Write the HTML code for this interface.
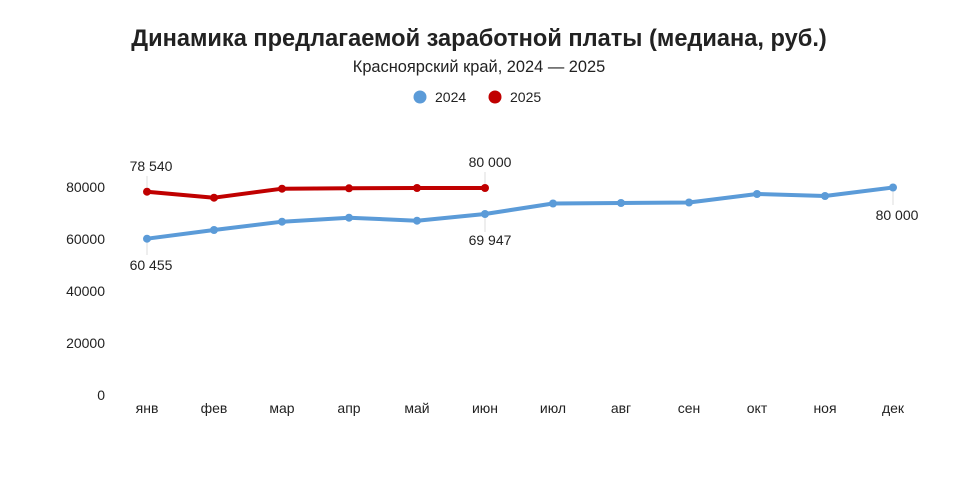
<!DOCTYPE html>
<html><head><meta charset="utf-8"><style>
body{margin:0;background:#fff;width:957px;height:492px;overflow:hidden}
text{font-family:"Liberation Sans",sans-serif;fill:#222}
</style></head><body>
<svg width="957" height="492" viewBox="0 0 957 492">
<text x="479" y="46" text-anchor="middle" font-size="23.6" font-weight="bold" fill="#111">Динамика предлагаемой заработной платы (медиана, руб.)</text>
<text x="479" y="72" text-anchor="middle" font-size="16.4">Красноярский край, 2024 — 2025</text>
<circle cx="420" cy="97" r="6.5" fill="#5b9bd8"/><text x="435" y="102" font-size="14">2024</text>
<circle cx="495" cy="97" r="6.5" fill="#c00000"/><text x="510" y="102" font-size="14">2025</text>
<g font-size="14" text-anchor="end">
<text x="105" y="192">80000</text><text x="105" y="244">60000</text><text x="105" y="296">40000</text><text x="105" y="348">20000</text><text x="105" y="400">0</text>
</g>
<g font-size="14" text-anchor="middle">
<text x="147" y="413">янв</text><text x="214" y="413">фев</text><text x="282" y="413">мар</text><text x="349" y="413">апр</text><text x="417" y="413">май</text><text x="485" y="413">июн</text><text x="553" y="413">июл</text><text x="621" y="413">авг</text><text x="689" y="413">сен</text><text x="757" y="413">окт</text><text x="825" y="413">ноя</text><text x="893" y="413">дек</text>
</g>
<g stroke="#ddd" stroke-width="1">
<line x1="147" y1="176" x2="147" y2="191"/><line x1="485" y1="172" x2="485" y2="187"/>
<line x1="147" y1="238" x2="147" y2="255"/><line x1="485" y1="214" x2="485" y2="232"/><line x1="893" y1="187" x2="893" y2="205"/>
</g>
<polyline fill="none" stroke="#5b9bd8" stroke-width="4" stroke-linejoin="round" points="147,238.7 214,230 282,221.7 349,217.7 417,220.7 485,214 553,203.5 621,203 689,202.5 757,194 825,196 893,187.5"/>
<g fill="#5b9bd8"><circle cx="147" cy="238.7" r="4"/><circle cx="214" cy="230" r="4"/><circle cx="282" cy="221.7" r="4"/><circle cx="349" cy="217.7" r="4"/><circle cx="417" cy="220.7" r="4"/><circle cx="485" cy="214" r="4"/><circle cx="553" cy="203.5" r="4"/><circle cx="621" cy="203" r="4"/><circle cx="689" cy="202.5" r="4"/><circle cx="757" cy="194" r="4"/><circle cx="825" cy="196" r="4"/><circle cx="893" cy="187.5" r="4"/></g>
<polyline fill="none" stroke="#c00000" stroke-width="4" stroke-linejoin="round" points="147,191.7 214,197.7 282,188.7 349,188.3 417,188 485,188"/>
<g fill="#c00000"><circle cx="147" cy="191.7" r="4"/><circle cx="214" cy="197.7" r="4"/><circle cx="282" cy="188.7" r="4"/><circle cx="349" cy="188.3" r="4"/><circle cx="417" cy="188" r="4"/><circle cx="485" cy="188" r="4"/></g>
<g font-size="14" text-anchor="middle">
<text x="151" y="171">78 540</text><text x="490" y="167">80 000</text>
<text x="151" y="270">60 455</text><text x="490" y="245">69 947</text><text x="897" y="220">80 000</text>
</g>
</svg>
</body></html>
